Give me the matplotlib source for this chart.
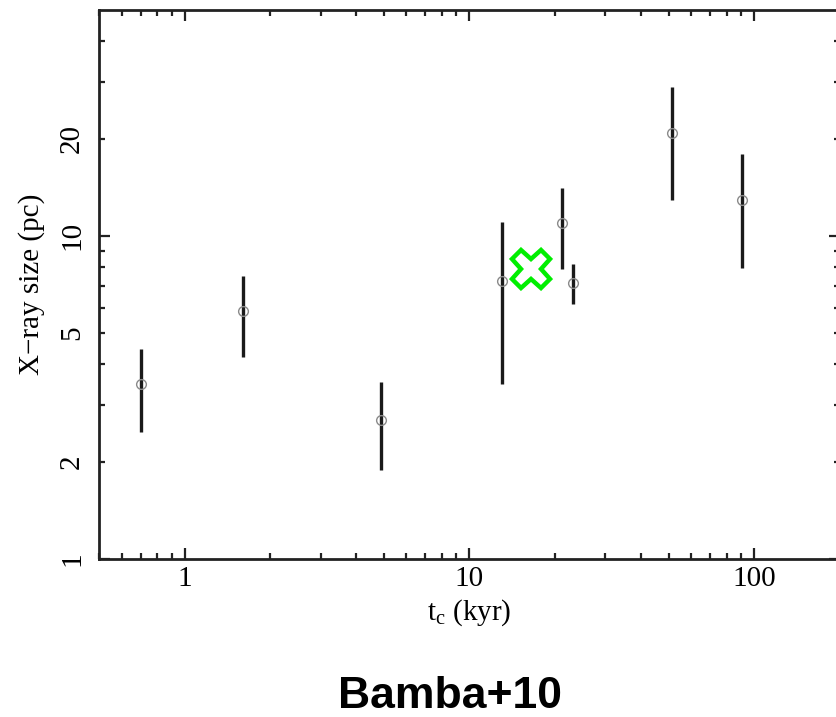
import numpy as np
import matplotlib
matplotlib.use('Agg')
import matplotlib.pyplot as plt
from matplotlib.ticker import FixedLocator, LogLocator, NullFormatter, FuncFormatter

# data (t_c in kyr, size in pc)
tc = [0.70, 1.60, 4.9, 13.0, 21.1, 23.1, 51.5, 90.7]
size = [3.49, 5.87, 2.69, 7.26, 10.97, 7.16, 20.8, 12.9]
size_hi = [4.48, 7.5, 3.52, 11.0, 14.1, 8.2, 28.8, 17.9]
size_lo = [2.47, 4.23, 1.88, 3.49, 7.91, 6.17, 12.9, 7.96]

# highlighted object
mark_tc = [16.4]
mark_size = [7.91]

x_major = [1, 10, 100]
y_major = [1, 10]
y_minor = [2, 3, 4, 5, 6, 7, 8, 9, 20, 30, 40]
y_minor_labels = [2, 5, 20]

plt.rcParams['font.family'] = 'Liberation Serif'
plt.rcParams['mathtext.fontset'] = 'custom'
plt.rcParams['mathtext.rm'] = 'Liberation Serif'
plt.rcParams['mathtext.it'] = 'Liberation Serif:italic'

fig = plt.figure(figsize=(8.36, 7.17), dpi=100)
ax = fig.add_axes([99 / 836, 1 - 559 / 717, 741 / 836, 549 / 717])

yerr = [np.array(size) - np.array(size_lo), np.array(size_hi) - np.array(size)]
ax.errorbar(tc, size, yerr=yerr, fmt='none', ecolor='#1a1a1a', elinewidth=2.4, capsize=0)
ax.plot(tc, size, 'o', ms=7, mfc='none', mec='#8a8a8a', mew=1.0)
ax.plot(mark_tc, mark_size, 'X', ms=28, mfc='white', mec='#00ee00', mew=3.2)

ax.set_xscale('log')
ax.set_yscale('log')
ax.set_xlim(0.5, 200)
ax.set_ylim(1, 50)

ax.xaxis.set_major_locator(FixedLocator(x_major))
ax.xaxis.set_major_formatter(FuncFormatter(lambda v, p: f'{v:g}'))
ax.xaxis.set_minor_locator(LogLocator(base=10, subs=np.arange(2, 10)))
ax.xaxis.set_minor_formatter(NullFormatter())

ax.yaxis.set_major_locator(FixedLocator(y_major))
ax.yaxis.set_major_formatter(FuncFormatter(lambda v, p: f'{v:g}'))
ax.yaxis.set_minor_locator(FixedLocator(y_minor))
ax.yaxis.set_minor_formatter(FuncFormatter(
    lambda v, p: f'{v:g}' if round(v) in y_minor_labels else ''))

ax.tick_params(which='both', direction='in', top=True, right=True,
               color='#222222', labelsize=21)
ax.tick_params(which='major', length=8, width=1.6)
ax.tick_params(which='minor', length=4, width=1.6)
ax.tick_params(axis='x', which='both', pad=5)
ax.tick_params(axis='y', which='both', pad=10)
for lab in ax.get_yticklabels(which='both'):
    lab.set_rotation(90)
    lab.set_va('center')

for sp in ax.spines.values():
    sp.set_linewidth(2.0)
    sp.set_color('#222222')

ax.set_xlabel(r't$_{\mathrm{c}}$ (kyr)', fontsize=21, labelpad=4)
ax.set_ylabel('X\u2212ray size (pc)', fontsize=21, labelpad=10)

fig.text(450 / 836, 9 / 717, 'Bamba+10', family='Liberation Sans', weight='bold',
         fontsize=32, ha='center', va='baseline')

fig.savefig('out.png', dpi=100)
